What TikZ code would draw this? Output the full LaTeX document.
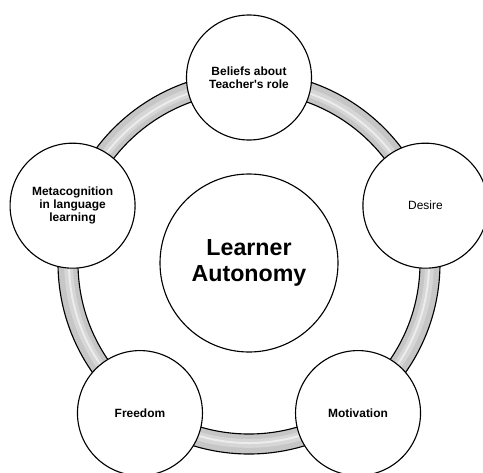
\documentclass[tikz,border=0pt]{standalone}
\usepackage{fontspec}
\setmainfont{Liberation Sans}
\usetikzlibrary{positioning}

\begin{document}
\begin{tikzpicture}
   [topic/.style={draw, circle, fill=white, line width=0.8pt, minimum size=3.125cm, inner sep=0pt, align=center, font=\fontsize{8.5}{9.4}\selectfont\bfseries},
    band/.style={line width=0.5cm, gray!45}]
   \useasboundingbox (-6.225,-5.225) rectangle (5.85,6.575);
   % grey ring behind the circles
   \draw[band] (0,0) circle (4.525);
   \draw[line width=0.22cm, gray!32] (0,0) circle (4.51);
   \draw[line width=0.05cm, gray!15] (0,0) circle (4.5);
   \draw[line width=0.8pt] (0,0) circle (4.275) (0,0) circle (4.775);
   \node[topic, minimum size=4.45cm, font=\fontsize{16.5}{18}\selectfont\bfseries] (la) at (0,0) {Learner\\Autonomy};
   \node[topic] (bel) at (90:4.6375) {Beliefs about\\Teacher\textquotesingle s role};
   \node[topic, font=\fontsize{8.5}{9.4}\selectfont] (des) at (18:4.6375) {Desire};
   \node[topic] (mot) at (-54:4.6375) {Motivation};
   \node[topic] (fre) at (-126:4.6375) {Freedom};
   \node[topic] (met) at (162:4.6375) {Metacognition\\in language\\learning};
\end{tikzpicture}
\end{document}
